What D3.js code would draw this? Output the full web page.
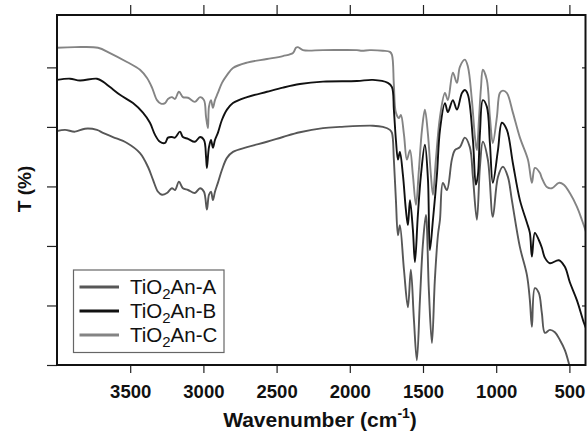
<!DOCTYPE html>
<html>
<head>
<meta charset="utf-8">
<script src="https://cdn.jsdelivr.net/npm/d3@7"></script>
<style>
  html, body { margin: 0; padding: 0; background: #fff; }
  svg { display: block; }
  text { font-family: "Liberation Sans", Arial, Helvetica, sans-serif; }
</style>
</head>
<body>
<script>
// ---- data (wavenumber cm^-1, transmittance a.u.) ----
const seriesNames = ["A", "B", "C"];
const xTicks = [3500, 3000, 2500, 2000, 1500, 1000, 500];
const yTicks = [0, 10, 20, 30, 40, 50];

const seriesA = [
  [4000,39.3],[3945,39.5],[3877,39.2],[3809,39.7],[3727,39.5],[3686,39.0],[3618,38.3],[3522,37.3],
  [3433,35.6],[3379,33.3],[3344,31.1],[3310,29.1],[3283,28.6],[3249,28.9],[3215,29.7],[3194,29.4],
  [3167,30.8],[3140,29.7],[3105,29.4],[3058,28.9],[3023,29.7],[2996,29.1],[2976,26.1],[2962,28.6],
  [2948,29.1],[2935,27.7],[2921,29.1],[2901,30.6],[2873,32.8],[2839,34.8],[2798,35.8],[2702,36.6],
  [2566,37.5],[2457,38.3],[2341,39.1],[2183,39.8],[2067,40.0],[1842,40.2],[1774,40.0],[1726,39.5],
  [1712,39.0],[1699,34.5],[1685,27.7],[1671,21.8],[1658,23.5],[1630,16.0],[1603,9.7],[1583,16.0],
  [1562,7.6],[1542,0.8],[1521,10.9],[1501,20.2],[1480,25.2],[1460,12.6],[1439,3.7],[1419,14.3],
  [1398,21.8],[1384,24.4],[1364,30.6],[1337,29.4],[1303,34.5],[1282,36.1],[1248,36.6],[1214,38.2],
  [1180,36.6],[1159,31.6],[1132,24.4],[1111,33.3],[1091,37.5],[1057,34.5],[1023,24.9],[988,31.6],
  [954,33.3],[920,31.6],[893,27.7],[838,19.8],[790,15.1],[770,10.9],[756,6.4],[736,12.9],
  [709,12.1],[688,8.7],[667,5.4],[633,5.9],[599,5.5],[565,4.2],[531,2.5],[504,0.3],[470,-3.4]
];

const seriesB = [
  [4000,47.9],[3911,48.1],[3843,47.8],[3727,48.1],[3686,47.6],[3638,46.7],[3570,45.4],[3481,44.0],
  [3413,42.4],[3365,40.7],[3331,38.7],[3297,37.5],[3262,37.3],[3242,38.2],[3215,38.3],[3194,38.2],
  [3160,39.2],[3140,38.3],[3105,38.0],[3058,37.5],[3023,38.3],[2996,37.8],[2982,35.0],[2976,33.1],
  [2962,36.6],[2948,37.8],[2935,36.5],[2921,37.8],[2901,39.0],[2873,41.2],[2839,42.9],[2798,44.0],
  [2702,45.0],[2566,45.9],[2457,46.6],[2341,47.2],[2183,47.6],[1951,47.7],[1842,47.9],[1740,47.4],
  [1712,46.7],[1699,42.9],[1685,37.8],[1671,34.5],[1658,35.8],[1637,31.9],[1617,26.1],[1603,23.5],
  [1589,27.7],[1569,22.7],[1555,17.3],[1535,25.2],[1514,31.9],[1487,37.0],[1466,31.1],[1453,19.3],
  [1432,24.4],[1405,31.9],[1384,39.5],[1350,44.0],[1330,42.5],[1296,44.5],[1268,42.9],[1234,45.7],
  [1214,46.2],[1193,45.4],[1159,37.8],[1139,30.3],[1125,31.9],[1111,39.0],[1091,44.5],[1064,43.4],
  [1043,37.3],[1023,30.6],[988,36.1],[961,40.7],[927,39.5],[886,33.9],[838,27.7],[790,23.9],
  [770,22.2],[756,18.2],[736,22.2],[709,21.0],[688,19.7],[667,18.0],[633,17.1],[572,17.6],
  [531,16.5],[497,13.9],[449,10.9],[401,7.1],[387,6.2]
];

const seriesC = [
  [4000,53.3],[3877,53.4],[3720,53.3],[3638,52.4],[3522,50.9],[3433,49.6],[3385,48.2],[3351,46.6],
  [3317,44.5],[3290,43.9],[3262,44.0],[3242,44.7],[3215,45.0],[3194,44.7],[3167,45.9],[3140,45.0],
  [3105,44.9],[3058,44.2],[3023,45.0],[2996,44.5],[2982,41.7],[2969,39.8],[2962,43.4],[2948,44.5],
  [2935,43.2],[2921,44.5],[2901,45.7],[2873,47.4],[2839,48.7],[2798,49.9],[2702,50.8],[2566,51.4],
  [2457,51.9],[2388,52.4],[2368,53.3],[2354,53.4],[2320,52.9],[2183,52.9],[1951,52.9],[1917,52.8],
  [1863,52.9],[1774,52.8],[1726,52.6],[1712,52.1],[1699,47.1],[1685,42.4],[1664,41.5],[1651,42.0],
  [1630,38.7],[1610,34.5],[1589,36.1],[1569,31.9],[1548,26.9],[1528,32.8],[1507,39.5],[1487,42.9],
  [1466,38.7],[1446,31.9],[1432,28.6],[1412,34.5],[1384,41.7],[1350,45.7],[1330,44.5],[1296,49.1],
  [1268,47.4],[1248,50.1],[1214,51.3],[1193,50.1],[1166,44.5],[1145,38.3],[1132,36.1],[1118,41.2],
  [1104,46.6],[1091,49.6],[1064,47.9],[1043,41.7],[1023,37.3],[995,41.7],[975,45.7],[954,46.1],
  [927,45.7],[886,42.4],[838,38.2],[783,34.5],[756,30.6],[736,33.1],[702,32.3],[688,31.4],
  [654,29.9],[620,29.7],[572,30.6],[538,30.3],[497,28.9],[449,26.6],[415,24.4],[387,22.4]
];

const seriesData = { A: seriesA, B: seriesB, C: seriesC };
const seriesColor = { A: "#575757", B: "#111111", C: "#848484" };

// ---- layout ----
const W = 587, H = 432;
const L = 57, R = 585.5, T = 15, B = 365;

const svg = d3.select("body").append("svg").attr("width", W).attr("height", H);

const x = d3.scaleLinear().domain([4000, 390]).range([L, R]);
const y = d3.scaleLinear().domain([0, 58.8]).range([B, T]);

svg.append("defs").append("clipPath").attr("id", "plot")
  .append("rect").attr("x", L).attr("y", T).attr("width", R - L).attr("height", B - T);

// axes
const gB = svg.append("g").attr("transform", `translate(0,${B})`)
  .call(d3.axisBottom(x).tickValues(xTicks).tickSize(8).tickPadding(12).tickFormat(d3.format("d")));
gB.selectAll("text").attr("font-size", 18.5).attr("font-weight", "bold").attr("fill", "#111");

svg.append("g").attr("transform", `translate(0,${T})`)
  .call(d3.axisTop(x).tickValues(xTicks).tickSize(10).tickFormat(""));
svg.append("g").attr("transform", `translate(${L},0)`)
  .call(d3.axisLeft(y).tickValues(yTicks).tickSize(10).tickFormat(""));
svg.append("g").attr("transform", `translate(${R},0)`)
  .call(d3.axisRight(y).tickValues(yTicks.slice(1)).tickSize(-3.5).tickFormat(""));

svg.selectAll(".domain").remove();
svg.selectAll(".tick line").attr("stroke", "#222").attr("stroke-width", 1.2);

// curves
const line = d3.line().x(d => x(d[0])).y(d => y(d[1])).curve(d3.curveCatmullRom.alpha(0.5));
const gC = svg.append("g").attr("clip-path", "url(#plot)");
["C", "A", "B"].forEach(k => {
  gC.append("path").datum(seriesData[k])
    .attr("d", line)
    .attr("fill", "none")
    .attr("stroke", seriesColor[k])
    .attr("stroke-width", 1.9)
    .attr("stroke-linejoin", "round");
});

// frame
svg.append("rect").attr("x", L).attr("y", T).attr("width", R - L).attr("height", B - T)
  .attr("fill", "none").attr("stroke", "#111").attr("stroke-width", 2);

// legend
const lg = svg.append("g");
lg.append("rect").attr("x", 73.5).attr("y", 270).attr("width", 150.5).attr("height", 82.5)
  .attr("fill", "#fff").attr("stroke", "#666").attr("stroke-width", 1.2);
const legendY = d3.scalePoint().domain(seriesNames).range([287, 335]);
seriesNames.forEach(k => {
  const yy = legendY(k);
  lg.append("line").attr("x1", 79.5).attr("x2", 119).attr("y1", yy).attr("y2", yy)
    .attr("stroke", seriesColor[k]).attr("stroke-width", 3.2);
  const t = lg.append("text").attr("x", 130).attr("y", yy + 6.8).attr("font-size", 20.5).attr("fill", "#111");
  t.append("tspan").text("TiO");
  t.append("tspan").attr("font-size", 15).attr("dy", 5).text("2");
  t.append("tspan").attr("dy", -5).text("An-" + k);
});

// axis titles
const xt = svg.append("text").attr("x", 320).attr("y", 427).attr("text-anchor", "middle")
  .attr("font-size", 21).attr("font-weight", "bold").attr("fill", "#111");
xt.append("tspan").text("Wavenumber (cm");
xt.append("tspan").attr("font-size", 14).attr("dy", -9).text("-1");
xt.append("tspan").attr("dy", 9).text(")");

svg.append("text").attr("transform", "translate(31,189) rotate(-90)").attr("text-anchor", "middle")
  .attr("font-size", 19).attr("font-weight", "bold").attr("fill", "#111").text("T (%)");
</script>
</body>
</html>
